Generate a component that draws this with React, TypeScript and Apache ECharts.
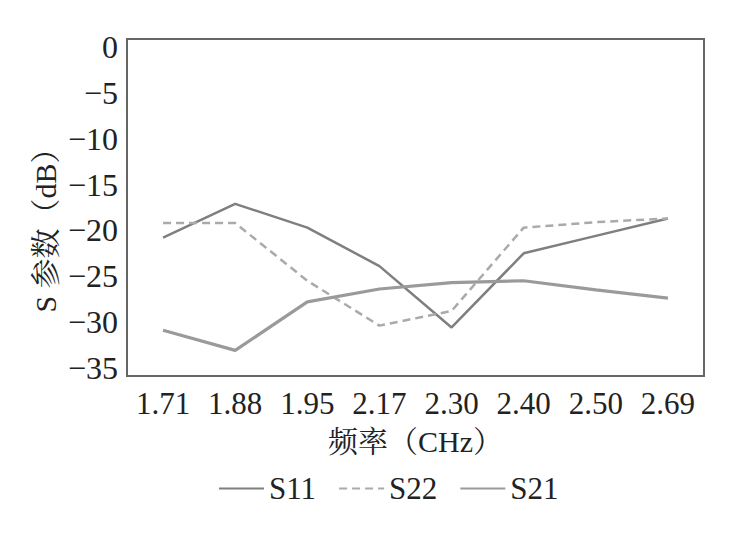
import React, { useEffect, useRef } from "react";
import * as echarts from "echarts";

const categories = ["1.71", "1.88", "1.95", "2.17", "2.30", "2.40", "2.50", "2.69"];
const s11 = [-20.8, -17.1, -19.7, -23.9, -30.6, -22.5, -20.6, -18.7];
const s22 = [-19.2, -19.2, -25.5, -30.4, -28.8, -19.7, -19.1, -18.7];
const s21 = [-30.9, -33.1, -27.8, -26.4, -25.7, -25.5, -26.5, -27.4];
const yTicks = [0, -5, -10, -15, -20, -25, -30, -35];

const FONT = "'Liberation Serif', 'Noto Serif CJK SC', 'Noto Sans CJK SC', serif";

export default function App() {
  const ref = useRef<HTMLDivElement>(null);
  useEffect(() => {
    if (!ref.current) return;
    const chart = echarts.init(ref.current, undefined, { renderer: "svg" });
    chart.setOption({
      animation: false,
      backgroundColor: "#fff",
      textStyle: { fontFamily: FONT, color: "#222" },
      grid: {
        left: 119,
        right: 37,
        top: 31,
        bottom: 159,
        show: true,
        borderColor: "#666",
        borderWidth: 2,
        backgroundColor: "transparent",
      },
      xAxis: {
        type: "category",
        data: categories,
        boundaryGap: true,
        axisLine: { show: false },
        axisTick: { show: false },
        axisLabel: { fontSize: 31, color: "#222", fontFamily: FONT, margin: 12 },
        name: "频率（CHz）",
        nameLocation: "middle",
        nameGap: 50,
        nameTextStyle: { fontSize: 30, color: "#222", fontFamily: FONT },
      },
      yAxis: {
        type: "value",
        min: -35.9,
        max: 0.9,
        axisLine: { show: false },
        axisTick: { show: false },
        splitLine: { show: false },
        axisLabel: {
          customValues: yTicks,
          fontSize: 32,
          color: "#222",
          fontFamily: FONT,
          margin: 9,
          formatter: (v: number) => (v < 0 ? "\u2212" + Math.abs(v) : String(v)),
        },
      },
      graphic: [
        {
          type: "text",
          x: 37,
          y: 215,
          rotation: Math.PI / 2,
          style: {
            text: "S 参数（dB）",
            fontSize: 30,
            fontFamily: FONT,
            fill: "#222",
            align: "center",
            verticalAlign: "middle",
          },
        },
      ],
      legend: {
        bottom: 26,
        left: 205,
        itemWidth: 45,
        itemHeight: 14,
        itemGap: 22,
        itemStyle: { opacity: 0 },
        textStyle: { fontSize: 31, color: "#222", fontFamily: FONT },
        data: ["S11", "S22", "S21"],
      },
      series: [
        {
          name: "S11",
          type: "line",
          data: s11,
          symbol: "none",
          lineStyle: { color: "#7f7f7f", width: 2.5 },
          itemStyle: { color: "#7f7f7f" },
        },
        {
          name: "S22",
          type: "line",
          data: s22,
          symbol: "none",
          lineStyle: { color: "#aaaaaa", width: 2.5, type: [8, 5] },
          itemStyle: { color: "#aaaaaa" },
        },
        {
          name: "S21",
          type: "line",
          data: s21,
          symbol: "none",
          lineStyle: { color: "#9a9a9a", width: 3.2 },
          itemStyle: { color: "#9a9a9a" },
        },
      ],
    });
    return () => chart.dispose();
  }, []);
  return <div ref={ref} style={{ width: 733, height: 527 }} />;
}
